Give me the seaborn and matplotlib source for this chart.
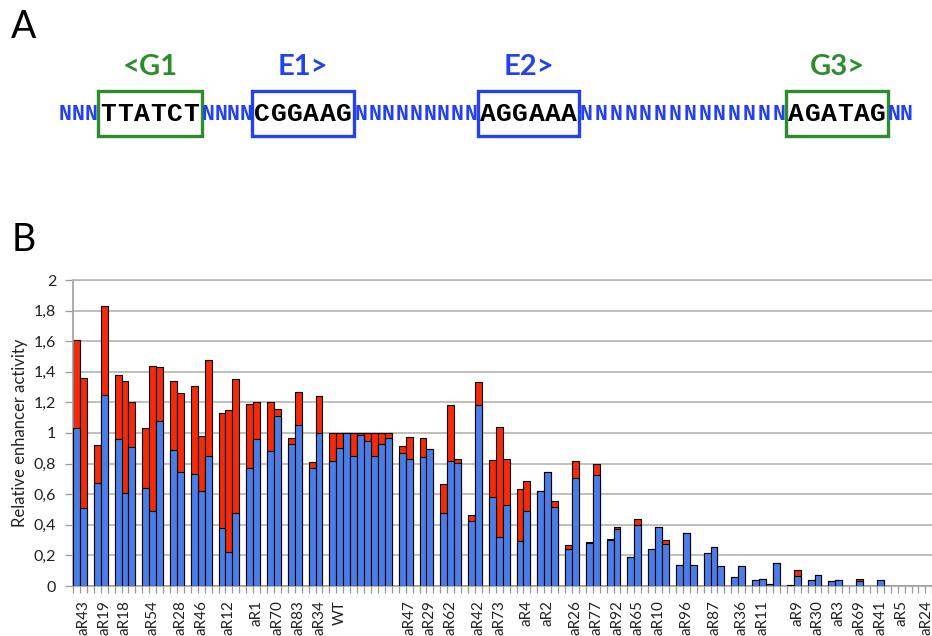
import numpy as np
import pandas as pd
import matplotlib
matplotlib.use("Agg")
import matplotlib.pyplot as plt
from matplotlib.patches import Rectangle
from matplotlib.transforms import ScaledTranslation
import seaborn as sns

# ---- data -------------------------------------------------------------
# category slots along the x axis; unused slots separate the variant groups
n_slots = 124
slots = [0, 1, 3, 4, 6, 7, 8, 10, 11, 12, 14, 15, 17, 18, 19, 21, 22, 23,
         25, 26, 28, 29, 31, 32, 34, 35,
         37, 38, 39, 40, 41, 42, 43, 44, 45,
         47, 48, 50, 51, 53, 54, 55, 57, 58, 60, 61, 62, 64, 65, 67, 68, 69,
         71, 72, 74, 75, 77, 78, 80, 81, 83, 84, 85, 87, 88, 89, 91, 92, 93,
         95, 96, 98, 99, 100, 101, 103, 104, 106, 107, 109, 110, 113, 116]
# lower (blue) segment of each bar
blue = [1.03, 0.51, 0.67, 1.25, 0.96, 0.61, 0.91, 0.64, 0.49, 1.08, 0.89, 0.745,
        0.73, 0.62, 0.85, 0.38, 0.22, 0.48,
        0.77, 0.96, 0.88, 1.11, 0.93, 1.05, 0.77, 1.00,
        0.815, 0.90, 1.00, 0.85, 0.985, 0.945, 0.85, 0.93, 0.965,
        0.867, 0.832, 0.84, 0.898, 0.475, 0.815, 0.806, 0.427, 1.185, 0.58, 0.322,
        0.527, 0.296, 0.492, 0.62, 0.745, 0.518,
        0.244, 0.706, 0.283, 0.728, 0.30, 0.375, 0.192, 0.40, 0.24, 0.388, 0.275,
        0.14, 0.344, 0.135, 0.218, 0.253, 0.13,
        0.061, 0.13, 0.039, 0.048, 0.013, 0.152, 0.009, 0.065, 0.039, 0.07,
        0.03, 0.039, 0.03, 0.039]
# upper (red) segment stacked on top of the blue one
red = [0.58, 0.85, 0.25, 0.58, 0.42, 0.73, 0.29, 0.39, 0.95, 0.35, 0.45, 0.515,
       0.58, 0.36, 0.63, 0.75, 0.93, 0.87,
       0.42, 0.24, 0.32, 0.05, 0.04, 0.22, 0.04, 0.24,
       0.185, 0.10, 0.0, 0.15, 0.015, 0.055, 0.15, 0.07, 0.035,
       0.048, 0.144, 0.127, 0.0, 0.192, 0.365, 0.022, 0.035, 0.148, 0.244, 0.715,
       0.305, 0.34, 0.196, 0.0, 0.0, 0.04,
       0.026, 0.109, 0.005, 0.069, 0.009, 0.013, 0.0, 0.036, 0.0, 0.0, 0.025,
       0.0, 0.0, 0.0, 0.0, 0.0, 0.0,
       0.0, 0.0, 0.0, 0.0, 0.0, 0.0, 0.0, 0.04, 0.0, 0.0,
       0.0, 0.0, 0.018, 0.0]

label_slots = [1, 4, 7, 11, 15, 18, 22, 26, 29, 32, 35, 38, 48, 51, 54, 58, 61,
               65, 68, 72, 75, 78, 81, 84, 88, 92, 96, 99, 104, 107, 110, 113,
               116, 119, 123]
labels = ["aR43", "aR19", "aR18", "aR54", "aR28", "aR46", "aR12", "aR1", "aR70",
          "aR83", "aR34", "WT", "aR47", "aR29", "aR62", "aR42", "aR73", "aR4",
          "aR2", "aR26", "aR77", "aR92", "aR65", "aR10", "aR96", "aR87", "aR36",
          "aR11", "aR9", "aR30", "aR3", "aR69", "aR41", "aR5", "aR24"]

yticks = [0, 0.2, 0.4, 0.6, 0.8, 1.0, 1.2, 1.4, 1.6, 1.8, 2.0]
ytick_labels = ["0", "0,2", "0,4", "0,6", "0,8", "1", "1,2", "1,4", "1,6", "1,8", "2"]

# panel A: sequence segments and motif annotations
seq_segments = [("NNN", 58, 98, False), ("TTATCT", 98, 202, True),
                ("NNNN", 202, 252, False), ("CGGAAG", 252, 354, True),
                ("NNNNNNNNN", 354, 478, False), ("AGGAAA", 478, 579, True),
                ("NNNNNNNNNNNNNN", 579, 786, False), ("AGATAG", 786, 888, True),
                ("NN", 888, 912, False)]
motif_names = ["<G1", "E1>", "E2>", "G3>"]
motif_kinds = ["G", "E", "E", "G"]

# ---- style ------------------------------------------------------------
BLUE = "#4a7de6"
RED = "#f32a0c"
GREEN = "#2e8b2e"
SEQ_BLUE = "#2342ee"
GRID = "#b4b4b4"

sns.set_style("white")
plt.rcParams["font.family"] = ["Lato", "DejaVu Sans"]

fig = plt.figure(figsize=(9.32, 6.36), dpi=100)

# ---- panel A: annotated sequence (pixel coordinates) -------------------
top = fig.add_axes([0, 0, 1, 1])
top.set_xlim(0, 932)
top.set_ylim(636, 0)
top.axis("off")

top.text(24, 27, "A", fontsize=27, ha="center", va="center", color="black")
top.text(24, 240, "B", fontsize=27, ha="center", va="center", color="black")

seq_y = 114
box_i = 0
for text, x0, x1, is_motif in seq_segments:
    n = len(text)
    pad = 2.0 if is_motif else 0.0
    step = (x1 - x0 - 2 * pad) / n
    for i, ch in enumerate(text):
        top.text(x0 + pad + (i + 0.5) * step, seq_y, ch,
                 fontsize=19 if is_motif else 15.5, fontweight="bold",
                 family="Liberation Mono",
                 color="black" if is_motif else SEQ_BLUE,
                 ha="center", va="center")
    if is_motif:
        col = GREEN if motif_kinds[box_i] == "G" else SEQ_BLUE
        top.add_patch(Rectangle((x0, 91), x1 - x0, 45, fill=False,
                                edgecolor=col, linewidth=2.4))
        top.text((x0 + x1) / 2, 67, motif_names[box_i], fontsize=21,
                 fontweight="bold", color=col, ha="center", va="center")
        box_i += 1

# ---- panel B: stacked bar chart --------------------------------------
ax = fig.add_axes([73 / 932, 50 / 636, (n_slots * 6.93) / 932, 306 / 636])

df = pd.DataFrame({"slot": slots, "blue": blue,
                   "total": np.add(blue, red)})
order = list(range(n_slots))

sns.barplot(data=df, x="slot", y="total", order=order, color=RED, width=1.0,
            saturation=1, edgecolor="black", linewidth=0.8, ax=ax, zorder=2)
sns.barplot(data=df, x="slot", y="blue", order=order, color=BLUE, width=1.0,
            saturation=1, edgecolor="black", linewidth=0.8, ax=ax, zorder=3)

ax.set_xlim(-0.5, n_slots - 0.5)
ax.set_ylim(0, 2)
ax.set_yticks(yticks, ytick_labels)
ax.set_xticks(label_slots, labels, rotation=90)
ax.set_xticks(np.arange(n_slots + 1) - 0.5, minor=True)

ax.yaxis.grid(True, color=GRID, linewidth=1.2)
ax.set_axisbelow(True)

ax.tick_params(axis="x", which="major", length=0, pad=10, labelsize=11,
               labelcolor="#222222")
ax.tick_params(axis="x", which="minor", length=5, width=0.9, color="#999999",
               direction="out", bottom=True)
ax.tick_params(axis="y", which="major", length=6, width=0.9, color="#999999",
               direction="out", left=True, pad=6, labelsize=11.5,
               labelcolor="#222222")

# keep the last category label inside the figure
last = ax.get_xticklabels()[-1]
last.set_transform(last.get_transform()
                   + ScaledTranslation(-2.5 / 100, 0, fig.dpi_scale_trans))

ax.spines["right"].set_visible(False)
for side in ("left", "bottom", "top"):
    ax.spines[side].set_color("#a0a0a0")
    ax.spines[side].set_linewidth(1.2)
ax.spines["top"].set_color(GRID)

ax.set_xlabel("")
ax.set_ylabel("Relative enhancer activity", fontsize=12, color="#222222",
              labelpad=4)

fig.savefig("out.png", dpi=100)
